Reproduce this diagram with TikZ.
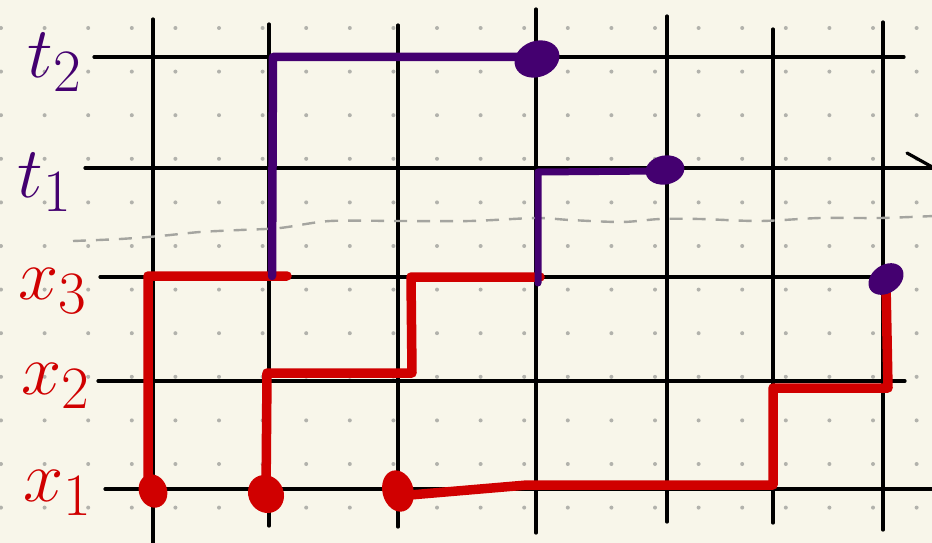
\documentclass[tikz,border=0pt]{standalone}
\usepackage{tikz}
\usetikzlibrary{shapes.geometric,positioning}
\definecolor{paper}{RGB}{248,246,234}
\definecolor{inkred}{RGB}{208,0,0}
\definecolor{inkpurple}{RGB}{68,0,112}
\definecolor{dotgray}{RGB}{178,178,172}
\definecolor{dashgray}{RGB}{165,165,160}
\tikzset{
    gridline/.style={line width=3.2pt, black, line cap=round},
    redpath/.style={line width=9.5pt, inkred, line cap=round, line join=round},
    purplepath/.style={line width=8.5pt, inkpurple, line cap=round, line join=round},
    blobR/.style={ellipse, fill=inkred, inner sep=0pt},
    blobP/.style={ellipse, fill=inkpurple, inner sep=0pt},
    labelR/.style={font=\Huge, scale=2.9, text=inkred},
    labelP/.style={font=\Huge, scale=2.9, text=inkpurple},
}
\begin{document}
\begin{tikzpicture}[x=1pt, y=-1pt]
    % Paper and dots
    \fill[paper] (0,0) rectangle (932,543);
    \useasboundingbox (0,0) rectangle (932,543);
    \foreach \i in {0,...,21}
        \foreach \j in {0,...,11}
            \fill[dotgray] (1+43.6*\i, 28+43.6*\j) circle (2pt);

    % Grid lines
    \foreach \x/\top/\bot in {153/19/543, 269/24/526, 398/25/527, 536/9/533, 667/16/522, 773/29/523, 883/22/530}
        \draw[gridline] (\x,\top) -- (\x,\bot);
    \foreach \y/\left/\right in {57/94/904, 168/85/934, 277/100/890, 381/98/905, 489/105/934}
        \draw[gridline] (\left,\y) -- (\right,\y);
    \draw[gridline] (907,153) -- (934,168);

    % Dashed separator
    \draw[dashgray, line width=2.4pt, dash pattern=on 13pt off 10pt]
        plot[smooth] coordinates {(73,241) (120,239) (160,236) (200,232) (240,230) (280,228)
        (330,221) (400,221) (470,221) (536,218) (570,220) (622,222) (660,219) (700,219)
        (760,221) (820,218) (880,218) (934,216)};

    % Labels
    \node[labelP] (t2) at (55,62) {$t_2$};
    \node[labelP] (t1) at (45,182) {$t_1$};
    \node[labelR] (x3) at (53,291) {$x_3$};
    \node[labelR] (x2) at (56,386) {$x_2$};
    \node[labelR] (x1) at (58,493) {$x_1$};

    % Red blobs on x_1
    \node[blobR, minimum width=28pt, minimum height=34pt, rotate=20] (r1) at (153,491) {};
    \node[blobR, minimum width=35pt, minimum height=39pt, rotate=30] (r2) at (266,494) {};
    \node[blobR, minimum width=31pt, minimum height=42pt, rotate=15] (r3) at (398,491) {};

    % Red paths
    \draw[redpath] (r1.center) -- (148,490) -- (148,276) -- (287,276);
    \draw[redpath] (r2.center) -- (267,373) -- (412,373) -- (411,277) -- (540,277);
    \draw[redpath] (r3.center) -- (410,495) -- (527,485) -- (773,485) -- (773,388)
        -- (888,388) -- (886,285);

    % Purple paths
    \draw[purplepath] (272,276) -- (273,57) -- (537,57);
    \draw[purplepath, line width=7pt] (538,283) -- (538,172) -- (660,171);

    % Purple blobs
    \node[blobP, minimum width=46pt, minimum height=36pt, rotate=20] (p2) at (537,59) {};
    \node[blobP, minimum width=39pt, minimum height=29pt, rotate=10] (p1) at (665,170) {};
    \node[blobP, minimum width=38pt, minimum height=28pt, rotate=35] (p3) at (886,279) {};
\end{tikzpicture}
\end{document}
